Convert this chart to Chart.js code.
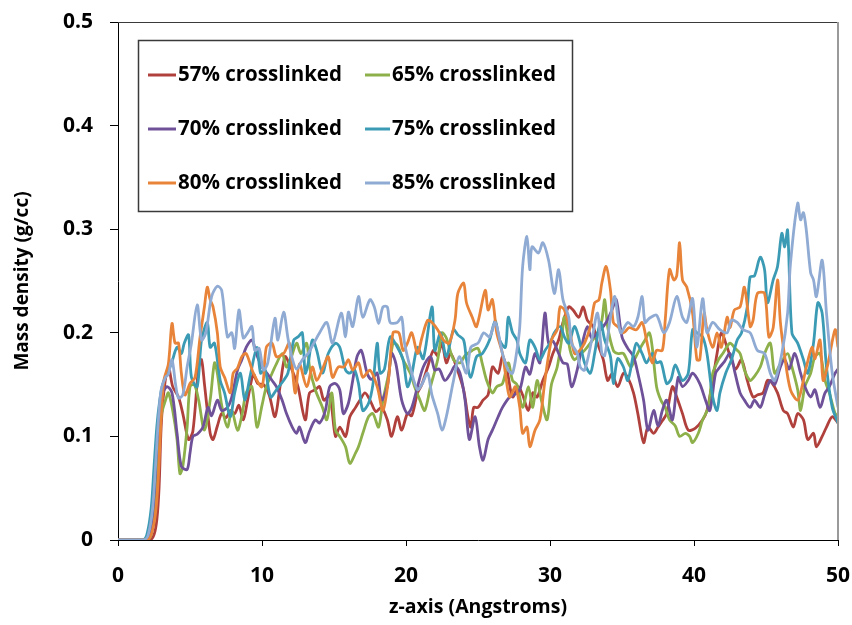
<!DOCTYPE html>
<html>
<head>
<meta charset="utf-8">
<title>Mass density profiles</title>
<script src="https://cdn.jsdelivr.net/npm/chart.js@4.4.1/dist/chart.umd.min.js"></script>
<style>
  html, body { margin: 0; padding: 0; background: #ffffff; }
  #wrap { width: 852px; height: 625px; }
</style>
</head>
<body>
<div id="wrap"><canvas id="c" width="852" height="625"></canvas></div>
<script>
// Series labels and colours
const seriesLabels = ['57% crosslinked', '65% crosslinked', '70% crosslinked',
                      '75% crosslinked', '80% crosslinked', '85% crosslinked'];
const seriesColors = ['#B0403C', '#8DB04A', '#6E5198', '#3B9BB4', '#E8843A', '#8FAAD3'];

// Axis ticks
const xTicks = [0, 10, 20, 30, 40, 50];
const yTicks = [0, 0.1, 0.2, 0.3, 0.4, 0.5];

// 57% crosslinked: z (Angstroms) and density (g/cc)
const z57 = [0, 2.2, 2.5, 2.7, 2.85, 3.0, 3.2, 3.5, 3.8, 4.2, 4.5, 4.9, 5.2, 5.6, 5.8, 6.0, 6.4, 6.6, 6.9, 7.2, 7.5, 7.8, 8.1, 8.4, 8.7, 9.0, 9.4, 9.7, 10.1, 10.5, 10.9, 11.25, 11.6, 11.9, 12.2, 12.5, 13.0, 13.3, 13.7, 14.0, 14.3, 14.7, 15.1, 15.4, 15.8, 16.1, 16.5, 16.8, 17.15, 17.5, 17.9, 18.3, 18.7, 19.0, 19.4, 19.7, 20.1, 20.4, 20.8, 21.1, 21.5, 21.9, 22.2, 22.5, 22.8, 23.1, 23.5, 24.0, 24.3, 24.5, 24.7, 25.0, 25.35, 25.7, 26.0, 26.4, 26.7, 27.0, 27.4, 27.8, 28.1, 28.5, 28.8, 29.1, 29.5, 29.9, 30.2, 30.6, 30.9, 31.3, 31.6, 32.0, 32.3, 32.6, 33.0, 33.3, 33.7, 34.0, 34.3, 34.7, 35.1, 35.4, 35.8, 36.1, 36.5, 36.8, 37.2, 37.5, 37.8, 38.1, 38.5, 38.8, 39.2, 39.6, 40.1, 40.6, 40.9, 41.3, 41.6, 41.9, 42.3, 42.6, 42.9, 43.3, 43.7, 44.1, 44.4, 44.8, 45.1, 45.4, 45.8, 46.2, 46.5, 46.9, 47.2, 47.6, 47.9, 48.3, 48.5, 48.9, 49.2, 49.6, 50.0];
const d57 = [0, 0, 0.005, 0.02, 0.05, 0.11, 0.145, 0.167, 0.148, 0.138, 0.122, 0.097, 0.105, 0.167, 0.174, 0.151, 0.103, 0.097, 0.11, 0.122, 0.118, 0.125, 0.122, 0.13, 0.116, 0.135, 0.16, 0.151, 0.15, 0.14, 0.119, 0.148, 0.177, 0.17, 0.16, 0.148, 0.116, 0.142, 0.145, 0.148, 0.135, 0.14, 0.1, 0.109, 0.1, 0.119, 0.128, 0.135, 0.142, 0.135, 0.124, 0.128, 0.116, 0.1, 0.119, 0.106, 0.122, 0.12, 0.142, 0.15, 0.167, 0.183, 0.178, 0.19, 0.171, 0.18, 0.167, 0.145, 0.119, 0.109, 0.128, 0.128, 0.135, 0.14, 0.167, 0.161, 0.177, 0.165, 0.138, 0.148, 0.14, 0.125, 0.142, 0.138, 0.154, 0.167, 0.18, 0.193, 0.21, 0.225, 0.222, 0.215, 0.225, 0.212, 0.206, 0.19, 0.174, 0.154, 0.16, 0.148, 0.161, 0.157, 0.142, 0.122, 0.094, 0.109, 0.103, 0.109, 0.115, 0.122, 0.148, 0.138, 0.122, 0.106, 0.108, 0.116, 0.125, 0.154, 0.18, 0.2, 0.186, 0.174, 0.165, 0.174, 0.154, 0.138, 0.14, 0.142, 0.154, 0.152, 0.142, 0.125, 0.122, 0.109, 0.122, 0.116, 0.097, 0.103, 0.09, 0.1, 0.109, 0.119, 0.113];

// 65% crosslinked
const z65 = [0, 2.0, 2.3, 2.6, 2.8, 3.0, 3.3, 3.5, 3.8, 4.1, 4.3, 4.5, 4.8, 5.0, 5.3, 5.6, 6.0, 6.4, 6.7, 6.9, 7.2, 7.6, 7.9, 8.3, 8.6, 8.9, 9.3, 9.65, 10.0, 10.3, 10.7, 11.0, 11.4, 11.7, 12.0, 12.4, 12.7, 13.1, 13.3, 13.7, 14.2, 14.5, 14.85, 15.1, 15.4, 15.8, 16.1, 16.5, 16.7, 17.0, 17.4, 17.7, 18.1, 18.4, 18.8, 19.1, 19.4, 19.8, 20.3, 20.6, 20.97, 21.3, 21.7, 22.2, 22.5, 22.8, 23.3, 23.75, 24.1, 24.6, 25.0, 25.3, 25.6, 26.0, 26.3, 26.7, 27.1, 27.4, 27.7, 28.1, 28.5, 28.8, 29.1, 29.4, 29.8, 30.1, 30.5, 30.8, 31.0, 31.4, 31.7, 32.0, 32.4, 32.8, 33.3, 33.6, 33.8, 34.0, 34.4, 34.7, 35.1, 35.6, 35.9, 36.3, 36.6, 36.9, 37.1, 37.4, 37.7, 38.0, 38.3, 38.7, 39.0, 39.4, 39.7, 39.9, 40.3, 40.6, 41.0, 41.3, 41.7, 42.0, 42.5, 42.85, 43.2, 43.5, 43.9, 44.2, 44.6, 44.9, 45.3, 45.6, 46.0, 46.5, 46.8, 47.2, 47.4, 47.7, 48.1, 48.4, 48.75, 49.1, 49.4, 49.8, 50.0];
const d65 = [0, 0, 0.005, 0.035, 0.08, 0.12, 0.135, 0.142, 0.125, 0.097, 0.064, 0.071, 0.109, 0.148, 0.15, 0.135, 0.106, 0.135, 0.171, 0.161, 0.13, 0.109, 0.125, 0.106, 0.12, 0.142, 0.148, 0.109, 0.13, 0.148, 0.161, 0.17, 0.18, 0.167, 0.175, 0.19, 0.18, 0.19, 0.167, 0.145, 0.128, 0.116, 0.142, 0.106, 0.1, 0.09, 0.074, 0.084, 0.09, 0.103, 0.119, 0.122, 0.109, 0.135, 0.161, 0.19, 0.188, 0.174, 0.161, 0.148, 0.135, 0.125, 0.148, 0.174, 0.2, 0.195, 0.174, 0.171, 0.178, 0.183, 0.185, 0.17, 0.154, 0.142, 0.148, 0.151, 0.171, 0.154, 0.15, 0.128, 0.148, 0.128, 0.154, 0.135, 0.116, 0.15, 0.167, 0.193, 0.215, 0.183, 0.174, 0.178, 0.183, 0.19, 0.2, 0.212, 0.232, 0.206, 0.183, 0.18, 0.18, 0.167, 0.175, 0.186, 0.193, 0.2, 0.186, 0.148, 0.135, 0.128, 0.116, 0.11, 0.1, 0.103, 0.1, 0.094, 0.103, 0.116, 0.128, 0.161, 0.174, 0.18, 0.19, 0.185, 0.18, 0.164, 0.154, 0.158, 0.167, 0.18, 0.19, 0.161, 0.17, 0.18, 0.167, 0.145, 0.125, 0.148, 0.161, 0.177, 0.18, 0.154, 0.142, 0.122, 0.12];

// 70% crosslinked
const z70 = [0, 1.9, 2.2, 2.5, 2.7, 3.0, 3.4, 3.75, 4.1, 4.4, 4.8, 5.0, 5.2, 5.5, 5.9, 6.25, 6.5, 6.9, 7.2, 7.6, 7.9, 8.3, 8.6, 8.9, 9.3, 9.6, 10.0, 10.4, 10.7, 11.0, 11.4, 11.7, 12.1, 12.4, 12.6, 13.0, 13.3, 13.7, 14.0, 14.4, 14.7, 15.1, 15.4, 15.65, 16.0, 16.3, 16.6, 16.9, 17.3, 17.6, 18.0, 18.3, 18.7, 19.0, 19.3, 19.7, 20.1, 20.4, 20.8, 21.2, 21.7, 22.0, 22.3, 22.7, 23.1, 23.4, 23.75, 24.1, 24.4, 24.8, 25.1, 25.35, 25.7, 26.0, 26.4, 26.7, 27.2, 27.5, 27.9, 28.3, 28.6, 28.96, 29.3, 29.65, 29.9, 30.2, 30.6, 30.9, 31.2, 31.5, 31.9, 32.3, 32.6, 32.9, 33.5, 33.9, 34.3, 34.6, 35.0, 35.4, 35.8, 36.1, 36.5, 36.8, 37.2, 37.5, 37.8, 38.1, 38.5, 38.9, 39.2, 39.6, 39.9, 40.4, 40.8, 41.1, 41.5, 41.8, 42.1, 42.5, 42.85, 43.2, 43.5, 43.9, 44.2, 44.6, 44.9, 45.3, 45.6, 46.0, 46.3, 46.6, 47.0, 47.4, 47.7, 48.1, 48.4, 48.75, 49.1, 49.4, 49.8, 50.0];
const d70 = [0, 0, 0.005, 0.04, 0.09, 0.138, 0.148, 0.142, 0.103, 0.071, 0.068, 0.084, 0.1, 0.102, 0.109, 0.128, 0.12, 0.135, 0.125, 0.128, 0.138, 0.164, 0.174, 0.186, 0.193, 0.18, 0.167, 0.16, 0.154, 0.148, 0.135, 0.122, 0.109, 0.103, 0.109, 0.094, 0.105, 0.116, 0.113, 0.125, 0.148, 0.151, 0.145, 0.122, 0.132, 0.154, 0.177, 0.183, 0.161, 0.155, 0.161, 0.135, 0.148, 0.18, 0.17, 0.135, 0.122, 0.128, 0.148, 0.167, 0.177, 0.164, 0.165, 0.154, 0.161, 0.168, 0.161, 0.135, 0.097, 0.119, 0.09, 0.077, 0.097, 0.106, 0.119, 0.128, 0.138, 0.14, 0.145, 0.167, 0.16, 0.18, 0.171, 0.219, 0.19, 0.192, 0.18, 0.171, 0.17, 0.148, 0.165, 0.193, 0.206, 0.195, 0.203, 0.21, 0.222, 0.232, 0.196, 0.185, 0.177, 0.161, 0.135, 0.106, 0.125, 0.11, 0.125, 0.135, 0.116, 0.157, 0.148, 0.154, 0.161, 0.151, 0.135, 0.125, 0.161, 0.167, 0.172, 0.18, 0.161, 0.142, 0.135, 0.128, 0.135, 0.128, 0.14, 0.154, 0.15, 0.167, 0.174, 0.165, 0.18, 0.161, 0.148, 0.138, 0.145, 0.128, 0.142, 0.148, 0.161, 0.165];

// 75% crosslinked
const z75 = [0, 1.7, 2.0, 2.3, 2.5, 2.7, 2.9, 3.1, 3.4, 3.7, 4.1, 4.4, 4.6, 4.9, 5.1, 5.5, 5.8, 6.2, 6.4, 6.7, 7.1, 7.4, 7.8, 8.1, 8.5, 8.8, 9.2, 9.65, 9.9, 10.2, 10.6, 11.0, 11.5, 11.8, 12.2, 12.5, 12.8, 13.0, 13.2, 13.5, 13.8, 14.2, 14.6, 15.1, 15.4, 15.8, 16.1, 16.4, 16.7, 17.0, 17.4, 17.7, 18.0, 18.2, 18.5, 18.9, 19.4, 19.8, 20.1, 20.4, 20.8, 21.2, 21.8, 22.0, 22.4, 22.8, 23.3, 23.6, 24.0, 24.2, 24.5, 24.9, 25.3, 25.8, 26.2, 26.5, 26.9, 27.1, 27.4, 27.7, 27.9, 28.3, 28.6, 28.96, 29.3, 29.65, 30.0, 30.3, 30.7, 31.0, 31.3, 31.7, 32.0, 32.4, 32.8, 33.1, 33.5, 33.8, 34.2, 34.4, 34.7, 35.1, 35.4, 35.8, 36.0, 36.4, 36.7, 37.1, 37.4, 37.7, 38.1, 38.4, 38.7, 39.2, 39.6, 39.9, 40.2, 40.6, 40.9, 41.3, 41.6, 41.8, 42.2, 42.6, 43.0, 43.3, 43.7, 43.9, 44.2, 44.6, 44.9, 45.1, 45.5, 45.8, 46.1, 46.3, 46.5, 46.8, 47.2, 47.6, 47.9, 48.3, 48.6, 48.9, 49.2, 49.6, 50.0];
const d75 = [0, 0, 0.005, 0.03, 0.07, 0.11, 0.135, 0.15, 0.161, 0.17, 0.186, 0.18, 0.19, 0.198, 0.157, 0.148, 0.193, 0.21, 0.186, 0.19, 0.154, 0.142, 0.119, 0.142, 0.161, 0.135, 0.16, 0.186, 0.161, 0.165, 0.138, 0.145, 0.154, 0.161, 0.193, 0.196, 0.2, 0.161, 0.17, 0.193, 0.183, 0.161, 0.18, 0.19, 0.186, 0.164, 0.161, 0.165, 0.151, 0.125, 0.132, 0.15, 0.19, 0.161, 0.165, 0.196, 0.186, 0.174, 0.148, 0.16, 0.186, 0.175, 0.225, 0.183, 0.2, 0.177, 0.203, 0.198, 0.193, 0.174, 0.157, 0.177, 0.18, 0.193, 0.212, 0.193, 0.186, 0.215, 0.2, 0.193, 0.18, 0.171, 0.193, 0.186, 0.174, 0.183, 0.19, 0.2, 0.206, 0.196, 0.19, 0.206, 0.195, 0.171, 0.161, 0.18, 0.21, 0.193, 0.177, 0.151, 0.175, 0.167, 0.154, 0.18, 0.19, 0.18, 0.171, 0.18, 0.171, 0.172, 0.151, 0.155, 0.169, 0.154, 0.161, 0.203, 0.2, 0.196, 0.18, 0.138, 0.125, 0.142, 0.161, 0.174, 0.193, 0.2, 0.225, 0.254, 0.255, 0.273, 0.261, 0.229, 0.251, 0.264, 0.296, 0.283, 0.299, 0.2, 0.19, 0.174, 0.161, 0.19, 0.229, 0.219, 0.167, 0.128, 0.113];

// 80% crosslinked
const z80 = [0, 2.0, 2.3, 2.6, 2.8, 3.0, 3.2, 3.5, 3.75, 3.96, 4.2, 4.4, 4.65, 5.0, 5.35, 5.7, 6.0, 6.2, 6.4, 6.6, 6.9, 7.1, 7.4, 7.8, 8.0, 8.3, 8.6, 8.9, 9.4, 10.0, 10.3, 10.7, 11.0, 11.5, 11.9, 12.3, 12.6, 13.1, 13.5, 13.8, 14.2, 14.6, 14.9, 15.3, 15.7, 16.0, 16.3, 16.7, 17.0, 17.5, 18.0, 18.4, 18.8, 19.1, 19.5, 19.8, 20.1, 20.4, 20.8, 21.1, 21.5, 21.8, 22.2, 22.6, 23.0, 23.4, 23.6, 24.0, 24.2, 24.6, 24.9, 25.5, 25.7, 26.0, 26.3, 26.7, 26.9, 27.2, 27.6, 27.9, 28.1, 28.4, 28.6, 28.96, 29.3, 29.65, 30.1, 30.5, 30.7, 31.0, 31.4, 31.7, 32.0, 32.4, 32.8, 33.1, 33.4, 33.6, 33.9, 34.2, 34.4, 34.7, 35.1, 35.5, 36.0, 36.4, 36.7, 37.1, 37.4, 37.8, 38.0, 38.3, 38.6, 38.8, 39.0, 39.2, 39.5, 39.9, 40.2, 40.4, 40.7, 40.9, 41.3, 41.6, 41.9, 42.3, 42.5, 42.8, 43.2, 43.5, 43.9, 44.1, 44.4, 44.9, 45.2, 45.5, 45.8, 46.0, 46.3, 46.7, 47.2, 47.5, 47.8, 48.2, 48.4, 48.75, 48.97, 49.3, 49.8, 50.0];
const d80 = [0, 0, 0.005, 0.025, 0.06, 0.12, 0.155, 0.17, 0.209, 0.19, 0.19, 0.161, 0.14, 0.151, 0.157, 0.196, 0.225, 0.244, 0.232, 0.225, 0.2, 0.167, 0.157, 0.142, 0.161, 0.166, 0.177, 0.18, 0.161, 0.148, 0.186, 0.19, 0.177, 0.18, 0.19, 0.142, 0.17, 0.148, 0.167, 0.154, 0.165, 0.177, 0.157, 0.167, 0.167, 0.174, 0.164, 0.171, 0.157, 0.164, 0.148, 0.125, 0.157, 0.2, 0.2, 0.183, 0.19, 0.2, 0.18, 0.195, 0.212, 0.21, 0.203, 0.193, 0.19, 0.212, 0.238, 0.248, 0.229, 0.215, 0.206, 0.241, 0.222, 0.232, 0.2, 0.18, 0.161, 0.138, 0.148, 0.128, 0.103, 0.109, 0.09, 0.106, 0.116, 0.154, 0.193, 0.203, 0.225, 0.222, 0.2, 0.18, 0.182, 0.19, 0.206, 0.229, 0.232, 0.248, 0.264, 0.241, 0.21, 0.206, 0.2, 0.205, 0.203, 0.21, 0.193, 0.171, 0.183, 0.183, 0.212, 0.261, 0.251, 0.255, 0.287, 0.251, 0.244, 0.219, 0.174, 0.174, 0.219, 0.203, 0.186, 0.2, 0.186, 0.215, 0.205, 0.222, 0.225, 0.244, 0.206, 0.212, 0.238, 0.238, 0.196, 0.205, 0.251, 0.21, 0.177, 0.145, 0.135, 0.148, 0.167, 0.186, 0.175, 0.193, 0.154, 0.17, 0.203, 0.186];

// 85% crosslinked
const z85 = [0, 1.8, 2.1, 2.4, 2.6, 2.8, 3.0, 3.3, 3.5, 3.75, 4.0, 4.2, 4.5, 4.8, 5.1, 5.5, 5.8, 6.1, 6.5, 6.9, 7.2, 7.6, 7.9, 8.1, 8.4, 8.7, 9.0, 9.3, 9.5, 9.8, 10.1, 10.4, 10.9, 11.1, 11.5, 11.8, 12.1, 12.4, 12.8, 13.2, 13.6, 14.0, 14.5, 14.9, 15.5, 15.8, 16.0, 16.3, 16.7, 17.0, 17.5, 17.8, 18.1, 18.4, 18.7, 18.9, 19.4, 19.7, 19.9, 20.4, 20.8, 21.1, 21.5, 21.8, 22.2, 22.5, 22.8, 23.3, 23.7, 24.2, 24.5, 25.0, 25.4, 25.8, 26.2, 26.7, 27.1, 27.4, 27.7, 27.9, 28.1, 28.4, 28.6, 28.75, 29.2, 29.5, 29.9, 30.3, 30.6, 30.9, 31.3, 31.5, 31.9, 32.1, 32.4, 32.9, 33.3, 33.6, 33.8, 34.2, 34.5, 34.9, 35.4, 35.8, 36.1, 36.4, 36.6, 36.9, 37.4, 37.9, 38.3, 38.8, 39.2, 39.5, 39.9, 40.2, 40.6, 40.9, 41.3, 41.8, 42.3, 42.6, 43.0, 43.4, 43.9, 44.4, 44.9, 45.3, 45.6, 46.1, 46.5, 46.7, 47.2, 47.4, 47.6, 47.8, 48.1, 48.3, 48.5, 48.9, 49.2, 49.6, 50.0];
const d85 = [0, 0, 0.005, 0.03, 0.07, 0.115, 0.145, 0.157, 0.16, 0.174, 0.15, 0.137, 0.14, 0.167, 0.19, 0.227, 0.193, 0.2, 0.235, 0.245, 0.241, 0.196, 0.2, 0.185, 0.222, 0.195, 0.2, 0.206, 0.183, 0.185, 0.164, 0.171, 0.214, 0.193, 0.22, 0.195, 0.175, 0.165, 0.174, 0.18, 0.19, 0.2, 0.21, 0.19, 0.219, 0.196, 0.22, 0.206, 0.235, 0.215, 0.232, 0.225, 0.209, 0.225, 0.225, 0.21, 0.21, 0.215, 0.19, 0.161, 0.145, 0.15, 0.161, 0.14, 0.122, 0.106, 0.119, 0.154, 0.177, 0.161, 0.186, 0.19, 0.2, 0.196, 0.21, 0.18, 0.164, 0.161, 0.183, 0.206, 0.264, 0.293, 0.261, 0.283, 0.277, 0.287, 0.27, 0.238, 0.261, 0.232, 0.215, 0.19, 0.18, 0.167, 0.164, 0.193, 0.219, 0.18, 0.178, 0.215, 0.235, 0.2, 0.21, 0.206, 0.215, 0.235, 0.21, 0.214, 0.217, 0.2, 0.21, 0.235, 0.215, 0.21, 0.233, 0.186, 0.233, 0.2, 0.21, 0.203, 0.2, 0.212, 0.21, 0.203, 0.2, 0.183, 0.18, 0.161, 0.154, 0.18, 0.219, 0.267, 0.325, 0.309, 0.316, 0.299, 0.258, 0.251, 0.235, 0.27, 0.219, 0.161, 0.128];

const zSets = [z57, z65, z70, z75, z80, z85];
const dSets = [d57, d65, d70, d75, d80, d85];

const FONT = '"Open Sans", Lato, "DejaVu Sans", sans-serif';

// Frame on the top and right of the plotting area
const framePlugin = {
  id: 'frame',
  afterDraw(chart) {
    const { ctx, chartArea: a } = chart;
    ctx.save();
    ctx.lineWidth = 1;
    ctx.strokeStyle = '#3a3a3a';
    ctx.beginPath();
    ctx.moveTo(a.left, a.top + 0.5);
    ctx.lineTo(a.right, a.top + 0.5);
    ctx.stroke();
    ctx.strokeStyle = '#9a9a9a';
    ctx.lineWidth = 2;
    ctx.beginPath();
    ctx.moveTo(a.right, a.top);
    ctx.lineTo(a.right, a.bottom);
    ctx.stroke();
    ctx.restore();
  }
};

// Boxed two-column legend inside the plot
const boxLegend = {
  id: 'boxLegend',
  afterDraw(chart) {
    const { ctx } = chart;
    const box = { x: 138.5, y: 40.5, w: 434, h: 171 };
    const colLine = [148, 365];
    const colText = [178, 392];
    const rows = [75, 129, 183];
    ctx.save();
    ctx.fillStyle = '#ffffff';
    ctx.fillRect(box.x, box.y, box.w, box.h);
    ctx.strokeStyle = '#3a3a3a';
    ctx.lineWidth = 1.5;
    ctx.strokeRect(box.x, box.y, box.w, box.h);
    ctx.font = 'bold 20.5px ' + FONT;
    ctx.textBaseline = 'middle';
    ctx.textAlign = 'left';
    chart.data.datasets.forEach((ds, i) => {
      const r = Math.floor(i / 2), c = i % 2;
      const y = rows[r];
      ctx.strokeStyle = ds.borderColor;
      ctx.lineWidth = 3;
      ctx.beginPath();
      ctx.moveTo(colLine[c], y);
      ctx.lineTo(colText[c] - 2, y);
      ctx.stroke();
      ctx.fillStyle = '#000000';
      ctx.fillText(ds.label, colText[c], y);
    });
    ctx.restore();
  }
};

const datasets = seriesLabels.map((label, i) => ({
  label,
  data: zSets[i].map((z, k) => ({ x: z, y: dSets[i][k] })),
  borderColor: seriesColors[i],
  backgroundColor: seriesColors[i],
  borderWidth: 2.8,
  pointRadius: 0,
  tension: 0.3,
  fill: false,
  order: seriesLabels.length - i
}));

new Chart(document.getElementById('c'), {
  type: 'line',
  data: { datasets },
  plugins: [framePlugin, boxLegend],
  options: {
    responsive: false,
    animation: false,
    devicePixelRatio: 1,
    layout: { padding: { top: 22, right: 14, left: 0, bottom: 0 } },
    plugins: { legend: { display: false }, tooltip: { enabled: false } },
    scales: {
      x: {
        type: 'linear',
        min: xTicks[0],
        max: xTicks[xTicks.length - 1],
        afterFit(scale) { scale.height = 85; scale.paddingLeft = 0; scale.paddingRight = 0; },
        afterBuildTicks(scale) { scale.ticks = xTicks.map(v => ({ value: v })); },
        ticks: {
          color: '#000',
          font: { family: FONT, size: 21, weight: 'bold' },
          padding: 17,
          maxRotation: 0,
          callback: v => String(v)
        },
        grid: { drawOnChartArea: false, drawTicks: true, tickLength: 6, color: '#000', tickColor: '#000' },
        border: { display: true, color: '#000', width: 1 },
        title: {
          display: true,
          text: 'z-axis (Angstroms)',
          color: '#000',
          font: { family: FONT, size: 19.5, weight: 'bold' },
          padding: { top: 0, bottom: 6 }
        }
      },
      y: {
        type: 'linear',
        min: yTicks[0],
        max: yTicks[yTicks.length - 1],
        afterFit(scale) { scale.width = 118; scale.paddingTop = 0; scale.paddingBottom = 0; },
        afterBuildTicks(scale) { scale.ticks = yTicks.map(v => ({ value: v })); },
        ticks: {
          color: '#000',
          font: { family: FONT, size: 21, weight: 'bold' },
          padding: 17,
          callback: v => (v === 0 ? '0' : v.toFixed(1))
        },
        grid: { drawOnChartArea: false, drawTicks: true, tickLength: 8, color: '#000', tickColor: '#000' },
        border: { display: true, color: '#000', width: 1 },
        title: {
          display: true,
          text: 'Mass density (g/cc)',
          color: '#000',
          font: { family: FONT, size: 19, weight: 'bold' },
          padding: { top: 11, bottom: 0 }
        }
      }
    }
  }
});
</script>
</body>
</html>
